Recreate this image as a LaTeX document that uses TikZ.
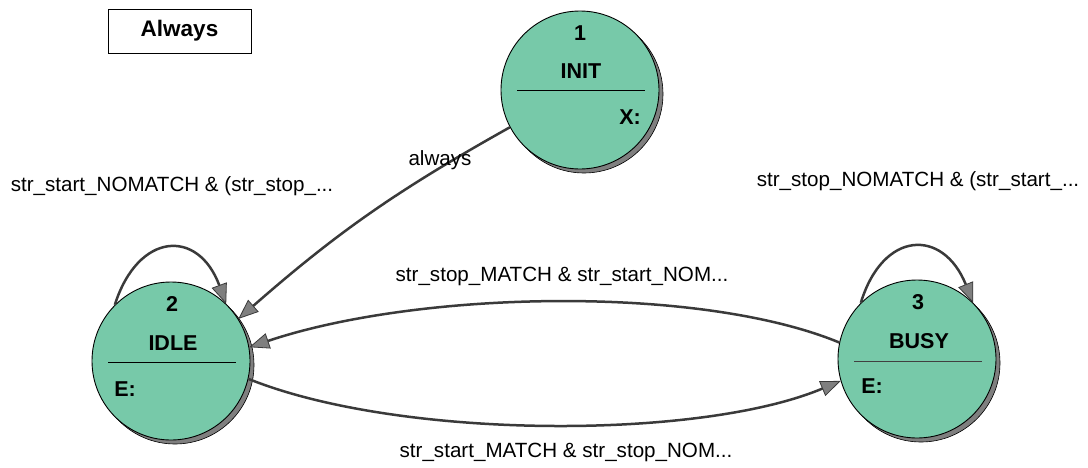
\documentclass[tikz,border=0pt]{standalone}
\usepackage{fontspec}
\setmainfont{Liberation Sans}
\usetikzlibrary{arrows.meta}
\definecolor{stfill}{HTML}{77C9A9}
\definecolor{edgecol}{HTML}{3A3A3A}
\definecolor{shadowcol}{HTML}{7F7F7F}
\begin{document}
\begin{tikzpicture}[x=1pt,y=-1pt,
  state/.style={circle,draw=black,line width=0.9pt,fill=stfill,minimum size=158pt,inner sep=0pt},
  stshadow/.style={circle,draw=black,line width=0.6pt,fill=shadowcol,minimum size=158pt,inner sep=0pt},
  sttext/.style={font=\fontsize{21.5}{25}\selectfont\bfseries,inner sep=0pt},
  divider/.style={line width=0.9pt,draw=black},
  edgelabel/.style={font=\fontsize{20.6}{24}\selectfont,inner sep=0pt},
  trans/.style={draw=edgecol,line width=2.5pt,-{Triangle[length=20pt,width=16pt,fill=shadowcol,line width=0.8pt]}},
  notebox/.style={draw=black,line width=0.9pt,minimum width=143pt,minimum height=44pt,inner sep=0pt,font=\fontsize{22.5}{26}\selectfont\bfseries}]
\useasboundingbox (0,0) rectangle (1088,467);

% Always box
\node[notebox] (always) at (179.5,31) {Always};

% shadows
\node[stshadow] (initsh) at (584,94) {};
\node[stshadow] (idlesh) at (175,365) {};
\node[stshadow] (busysh) at (921,363) {};

% states
\node[state] (init) at (580,90) {};
\node[state] (idle) at (171,361) {};
\node[state] (busy) at (917,359) {};

% state texts
\node[sttext] (initnum) at (580,33) {1};
\node[sttext] (initname) at (581,71) {INIT};
\node[sttext] (initx) at (630,117) {X:};
\coordinate (initl) at (517,90);
\coordinate (initr) at (645,90);
\draw[divider] (initl) -- (initr);

\node[sttext] (idlenum) at (172,304) {2};
\node[sttext] (idlename) at (173,343) {IDLE};
\node[sttext] (idlee) at (125,389) {E:};
\coordinate (idlel) at (108,362);
\coordinate (idler) at (236,362);
\draw[divider] (idlel) -- (idler);

\node[sttext] (busynum) at (918,302) {3};
\node[sttext] (busyname) at (919,341) {BUSY};
\node[sttext] (busye) at (872,386) {E:};
\coordinate (busyl) at (854,361);
\coordinate (busyr) at (982,361);
\draw[divider,draw=black!75] (busyl) -- (busyr);

% transitions
\draw[trans] (init.208) to[bend right=6] (idle.32);
\draw[trans] (idle.135) .. controls (138,232) and (198,228) .. (idle.46);
\draw[trans] (busy.135) .. controls (883,230) and (943,228) .. (busy.45);
\draw[trans] (busy.168) .. controls (700,285) and (420,290) .. (idle.10);
\draw[trans] (idle.-13) .. controls (400,440) and (700,440) .. (busy.196);

% labels
\node[edgelabel] (lalways) at (440,160) {always};
\node[edgelabel] (lidle) at (172,186) {str\_start\_NOMATCH \& (str\_stop\_...};
\node[edgelabel] (lbusy) at (918,181) {str\_stop\_NOMATCH \& (str\_start\_...};
\node[edgelabel] (ltop) at (562,276) {str\_stop\_MATCH \& str\_start\_NOM...};
\node[edgelabel] (lbot) at (566,452) {str\_start\_MATCH \& str\_stop\_NOM...};
\end{tikzpicture}
\end{document}
